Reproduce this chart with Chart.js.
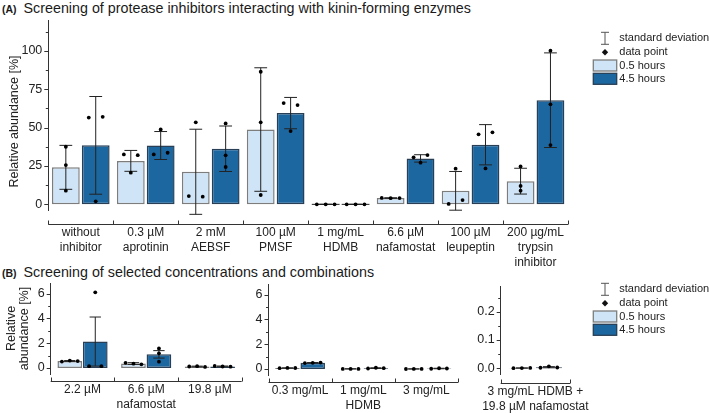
<!DOCTYPE html>
<html>
<head>
<meta charset="utf-8">
<script src="https://cdn.jsdelivr.net/npm/chart.js@4.4.0/dist/chart.umd.min.js"></script>
<style>
body { margin: 0; width: 709px; height: 413px; position: relative; background: #fff; overflow: hidden; font-family: 'Liberation Sans', Arial, sans-serif; color: #1a1a1a; }
canvas { position: absolute; }
.ttl { position: absolute; left: 2px; font-size: 14.3px; line-height: 16px; white-space: nowrap; }
.ttl b { font-size: 10.5px; margin-right: 3px; }
</style>
</head>
<body>
<div class="ttl" style="top:0px"><b>(A)</b> Screening of protease inhibitors interacting with kinin-forming enzymes</div>
<div class="ttl" style="top:264px"><b>(B)</b> Screening of selected concentrations and combinations</div>
<canvas id="chartA" width="709" height="272" style="left:0;top:0"></canvas>
<canvas id="chartB1" width="250" height="135" style="left:0;top:278px"></canvas>
<canvas id="chartB2" width="260" height="135" style="left:210px;top:278px"></canvas>
<canvas id="chartB3" width="269" height="135" style="left:440px;top:278px"></canvas>
<script>
// ---- panel A: protease inhibitors ----
const catA = [['without', 'inhibitor'], ['0.3 µM', 'aprotinin'], ['2 mM', 'AEBSF'], ['100 µM', 'PMSF'], ['1 mg/mL', 'HDMB'], ['6.6 µM', 'nafamostat'], ['100 µM', 'leupeptin'], ['200 µg/mL', 'trypsin', 'inhibitor']];
const meanA05 = [24.1, 28.3, 21.2, 48.7, 0, 4.1, 8.8, 15.1];
const sdA05 = [14.3, 6.8, 27.7, 40.2, 0, 0.2, 12.6, 8.4];
const ptsA05 = [[37.5, 25.6, 8.9], [32.5, 32.0, 20.6], [5.4, 53.4, 5.0], [86.3, 53.4, 6.1], [0, 0, 0], [4.2, 4.0, 4.1], [0.3, 23.2, 2.8], [24.7, 12.0, 8.9]];
const meanA45 = [38.4, 38.3, 36.2, 59.4, 0, 29.9, 38.8, 67.8];
const sdA45 = [31.8, 9.1, 14.8, 10.2, 0, 2.4, 13.1, 30.8];
const ptsA45 = [[56.5, 57.0, 2.0], [32.5, 48.8, 33.6], [52.7, 31.9, 24.3], [65.9, 64.6, 47.7], [0, 0, 0], [30.6, 27.1, 32.1], [45.6, 46.9, 23.4], [100.0, 65.1, 38.6]];

// ---- panel B: nafamostat ----
const catB1 = [['2.2 µM'], ['6.6 µM', 'nafamostat'], ['19.8 µM']];
const meanB1_05 = [0.56, 0.36, 0.12];
const errB1_05 = [0.04, 0.07, 0.03];
const ptsB1_05 = [[0.52, 0.60, 0.56], [0.42, 0.35, 0.30], [0.12, 0.15, 0.09]];
const meanB1_45 = [2.13, 1.10, 0.13];
const errB1_45 = [1.98, 0.30, 0.03];
const ptsB1_45 = [[0.15, 6.10, 0.15], [1.58, 1.18, 0.51], [0.16, 0.12, 0.11]];

// ---- panel B: HDMB ----
const catB2 = [['0.3 mg/mL'], ['1 mg/mL', 'HDMB'], ['3 mg/mL']];
const meanB2_05 = [0.08, 0.01, 0.005];
const errB2_05 = [0.01, 0.005, 0.003];
const ptsB2_05 = [[0.07, 0.09, 0.08], [0.01, 0.01, 0.01], [0.0, 0.01, 0.005]];
const meanB2_45 = [0.50, 0.07, 0.04];
const errB2_45 = [0.02, 0.03, 0.02];
const ptsB2_45 = [[0.48, 0.50, 0.52], [0.04, 0.10, 0.07], [0.02, 0.06, 0.04]];

// ---- panel B: combination ----
const catB3 = [['3 mg/mL HDMB +', '19.8 µM nafamostat']];
const meanB3_05 = [0.001];
const errB3_05 = [0.0005];
const ptsB3_05 = [[0.0005, 0.001, 0.0015]];
const meanB3_45 = [0.004];
const errB3_45 = [0.002];
const ptsB3_45 = [[0.002, 0.007, 0.003]];

const LIGHT = '#cfe5f7', LIGHT_EDGE = '#7d7d7d';
const DARK = '#1d67a0', DARK_EDGE = '#283f55';
const INK = '#222';

Chart.defaults.font.family = "'Liberation Sans', Arial, sans-serif";
Chart.defaults.color = INK;

const isMajor = (v, major) => Math.abs(v / major - Math.round(v / major)) < 1e-6;

function drawLegend(ctx, lx, ly) {
    const cx = lx + 11.7;
    ctx.strokeStyle = '#555';
    ctx.lineWidth = 1;
    ctx.beginPath();
    ctx.moveTo(cx, ly - 6); ctx.lineTo(cx, ly + 6);
    ctx.moveTo(cx - 4, ly - 6); ctx.lineTo(cx + 4, ly - 6);
    ctx.moveTo(cx - 4, ly + 6); ctx.lineTo(cx + 4, ly + 6);
    ctx.stroke();
    ctx.fillStyle = '#111';
    const dy = ly + 14;
    ctx.beginPath();
    ctx.moveTo(cx, dy - 3.2); ctx.lineTo(cx + 3.2, dy); ctx.lineTo(cx, dy + 3.2); ctx.lineTo(cx - 3.2, dy);
    ctx.fill();
    ctx.lineWidth = 1.3;
    ctx.fillStyle = LIGHT; ctx.strokeStyle = LIGHT_EDGE;
    ctx.fillRect(lx, ly + 21.7, 23.4, 11); ctx.strokeRect(lx, ly + 21.7, 23.4, 11);
    ctx.fillStyle = DARK; ctx.strokeStyle = DARK_EDGE;
    ctx.fillRect(lx, ly + 35, 23.4, 11); ctx.strokeRect(lx, ly + 35, 23.4, 11);
    ctx.fillStyle = INK;
    ctx.font = "11px 'Liberation Sans', Arial, sans-serif";
    ctx.textAlign = 'left';
    ctx.textBaseline = 'middle';
    ctx.fillText('standard deviation', lx + 26, ly);
    ctx.fillText('data point', lx + 26, ly + 14);
    ctx.fillText('0.5 hours', lx + 26, ly + 27.4);
    ctx.fillText('4.5 hours', lx + 26, ly + 41);
}

// error bars, data points, detached x axis, minor ticks, axis title, legend
const panelPlugin = {
    id: 'panel',
    afterDatasetsDraw(chart) {
        const ctx = chart.ctx, y = chart.scales.y;
        ctx.save();
        chart.data.datasets.forEach((ds, di) => {
            chart.getDatasetMeta(di).data.forEach((bar, i) => {
                const w = bar.width, cx = bar.x;
                const m = ds.data[i], e = ds.err[i];
                if (m === 0) {
                    ctx.strokeStyle = INK; ctx.lineWidth = 1;
                    ctx.beginPath(); ctx.moveTo(cx - w / 2, y.getPixelForValue(0)); ctx.lineTo(cx + w / 2, y.getPixelForValue(0)); ctx.stroke();
                }
                const top = y.getPixelForValue(m + e), bot = y.getPixelForValue(m - e);
                const c = w * 0.23;
                ctx.strokeStyle = INK; ctx.lineWidth = 1;
                ctx.beginPath();
                ctx.moveTo(cx, top); ctx.lineTo(cx, bot);
                ctx.moveTo(cx - c, top); ctx.lineTo(cx + c, top);
                ctx.moveTo(cx - c, bot); ctx.lineTo(cx + c, bot);
                ctx.stroke();
                // points that overlap vertically are spread sideways
                const pts = ds.pts[i].map(v => ({ v, py: y.getPixelForValue(v) }));
                const groups = [];
                pts.forEach(p => {
                    const hit = groups.find(g => g.some(q => Math.abs(q.py - p.py) < 4.3));
                    if (hit) hit.push(p); else groups.push([p]);
                });
                ctx.fillStyle = '#000';
                groups.forEach(g => {
                    const offs = g.length === 1 ? [0] : g.length === 2 ? [-0.25, 0.25] : [-0.32, 0, 0.32];
                    g.forEach((p, k) => {
                        ctx.beginPath();
                        ctx.arc(cx + offs[k] * w, p.py, 1.9, 0, Math.PI * 2);
                        ctx.fill();
                    });
                });
            });
        });
        ctx.restore();
    },
    afterDraw(chart) {
        const o = chart.options.plugins.panel;
        const ctx = chart.ctx, y = chart.scales.y, area = chart.chartArea;
        ctx.save();
        ctx.strokeStyle = '#333';
        ctx.lineWidth = 1;
        // y tick marks, major and minor
        ctx.beginPath();
        y.ticks.forEach(t => {
            const py = Math.round(y.getPixelForValue(t.value)) + 0.5;
            const len = isMajor(t.value, o.major) ? 4 : 2.5;
            ctx.moveTo(area.left - len, py); ctx.lineTo(area.left, py);
        });
        // detached category axis with inward ticks at group borders
        const ay = Math.round(area.bottom + o.gap) + 0.5;
        ctx.moveTo(area.left, ay); ctx.lineTo(area.right, ay);
        const n = chart.data.labels.length;
        for (let k = 0; k <= n; k++) {
            const bx = Math.round(area.left + (area.right - area.left) * k / n) + 0.5;
            ctx.moveTo(bx, ay); ctx.lineTo(bx, ay - 4);
        }
        ctx.stroke();
        // rotated axis title
        ctx.fillStyle = INK;
        ctx.font = "12.5px 'Liberation Sans', Arial, sans-serif";
        ctx.textAlign = 'center';
        ctx.textBaseline = 'middle';
        o.yTitle.lines.forEach((line, k) => {
            ctx.save();
            ctx.translate(o.yTitle.x[k], o.yTitle.y);
            ctx.rotate(-Math.PI / 2);
            ctx.fillText(line, 0, 0);
            ctx.restore();
        });
        if (o.legend) drawLegend(ctx, o.legend.x, o.legend.y);
        ctx.restore();
    }
};

function makeChart(id, cats, m05, e05, p05, m45, e45, p45, opt) {
    return new Chart(document.getElementById(id), {
        type: 'bar',
        data: {
            labels: cats,
            datasets: [
                { label: '0.5 hours', data: m05, err: e05, pts: p05, backgroundColor: LIGHT, borderColor: LIGHT_EDGE, borderWidth: 1.5, borderSkipped: false },
                { label: '4.5 hours', data: m45, err: e45, pts: p45, backgroundColor: DARK, borderColor: DARK_EDGE, borderWidth: 1.5, borderSkipped: false }
            ]
        },
        options: {
            responsive: false,
            animation: false,
            datasets: { bar: { categoryPercentage: opt.cat, barPercentage: opt.bar } },
            layout: { padding: { left: 0, top: opt.top, right: opt.right, bottom: 0 } },
            plugins: { legend: { display: false }, tooltip: { enabled: false }, panel: opt },
            scales: {
                x: {
                    grid: { display: false },
                    border: { display: false },
                    ticks: { autoSkip: false, maxRotation: 0, padding: opt.labPad, font: { size: 12, lineHeight: 1.25 } },
                    afterFit: s => { s.height = opt.xh; s.paddingLeft = 0; s.paddingRight = 0; }
                },
                y: {
                    min: opt.min,
                    max: opt.max,
                    grid: { display: false, drawTicks: false },
                    border: { display: true, color: '#333', width: 1 },
                    ticks: { stepSize: opt.step, includeBounds: false, autoSkip: false, padding: 6, font: { size: 12.5 }, callback: v => isMajor(v, opt.major) ? opt.fmt(v) : '' },
                    afterFit: s => { s.width = opt.yw; s.paddingTop = 0; s.paddingBottom = 0; }
                }
            }
        },
        plugins: [panelPlugin]
    });
}

makeChart('chartA', catA, meanA05, sdA05, ptsA05, meanA45, sdA45, ptsA45, {
    top: 20, right: 141, yw: 48.3, xh: 61.5, labPad: 6.5, gap: 13.5,
    min: -4, max: 120, step: 12.5, major: 25, fmt: v => String(v),
    cat: 0.92, bar: 0.93,
    yTitle: { lines: ['Relative abundance [%]'], x: [15], y: 121.5 },
    legend: { x: 593.3, y: 38.3 }
});

makeChart('chartB1', catB1, meanB1_05, errB1_05, ptsB1_05, meanB1_45, errB1_45, ptsB1_45, {
    top: 5.3, right: 8.3, yw: 50.7, xh: 38.8, labPad: -0.5, gap: 7,
    min: -0.5, max: 6.83, step: 1, major: 2, fmt: v => String(v),
    cat: 0.8, bar: 0.97,
    yTitle: { lines: ['Relative', 'abundance [%]'], x: [11.7, 25], y: 50.5 },
    legend: null
});

makeChart('chartB2', catB2, meanB2_05, errB2_05, ptsB2_05, meanB2_45, errB2_45, ptsB2_45, {
    top: 6.3, right: 12, yw: 58.5, xh: 37.8, labPad: -0.5, gap: 7,
    min: -0.5, max: 6.83, step: 1, major: 2, fmt: v => String(v),
    cat: 0.8, bar: 0.97,
    yTitle: { lines: [], x: [], y: 0 },
    legend: null
});

makeChart('chartB3', catB3, meanB3_05, errB3_05, ptsB3_05, meanB3_45, errB3_45, ptsB3_45, {
    top: 8.2, right: 139, yw: 60.7, xh: 39, labPad: 2.5, gap: 8.7,
    min: -0.02, max: 0.29, step: 0.05, major: 0.1, fmt: v => v.toFixed(1),
    cat: 0.78, bar: 0.97,
    yTitle: { lines: [], x: [], y: 0 },
    legend: { x: 153.3, y: 11.3 }
});
</script>
</body>
</html>
